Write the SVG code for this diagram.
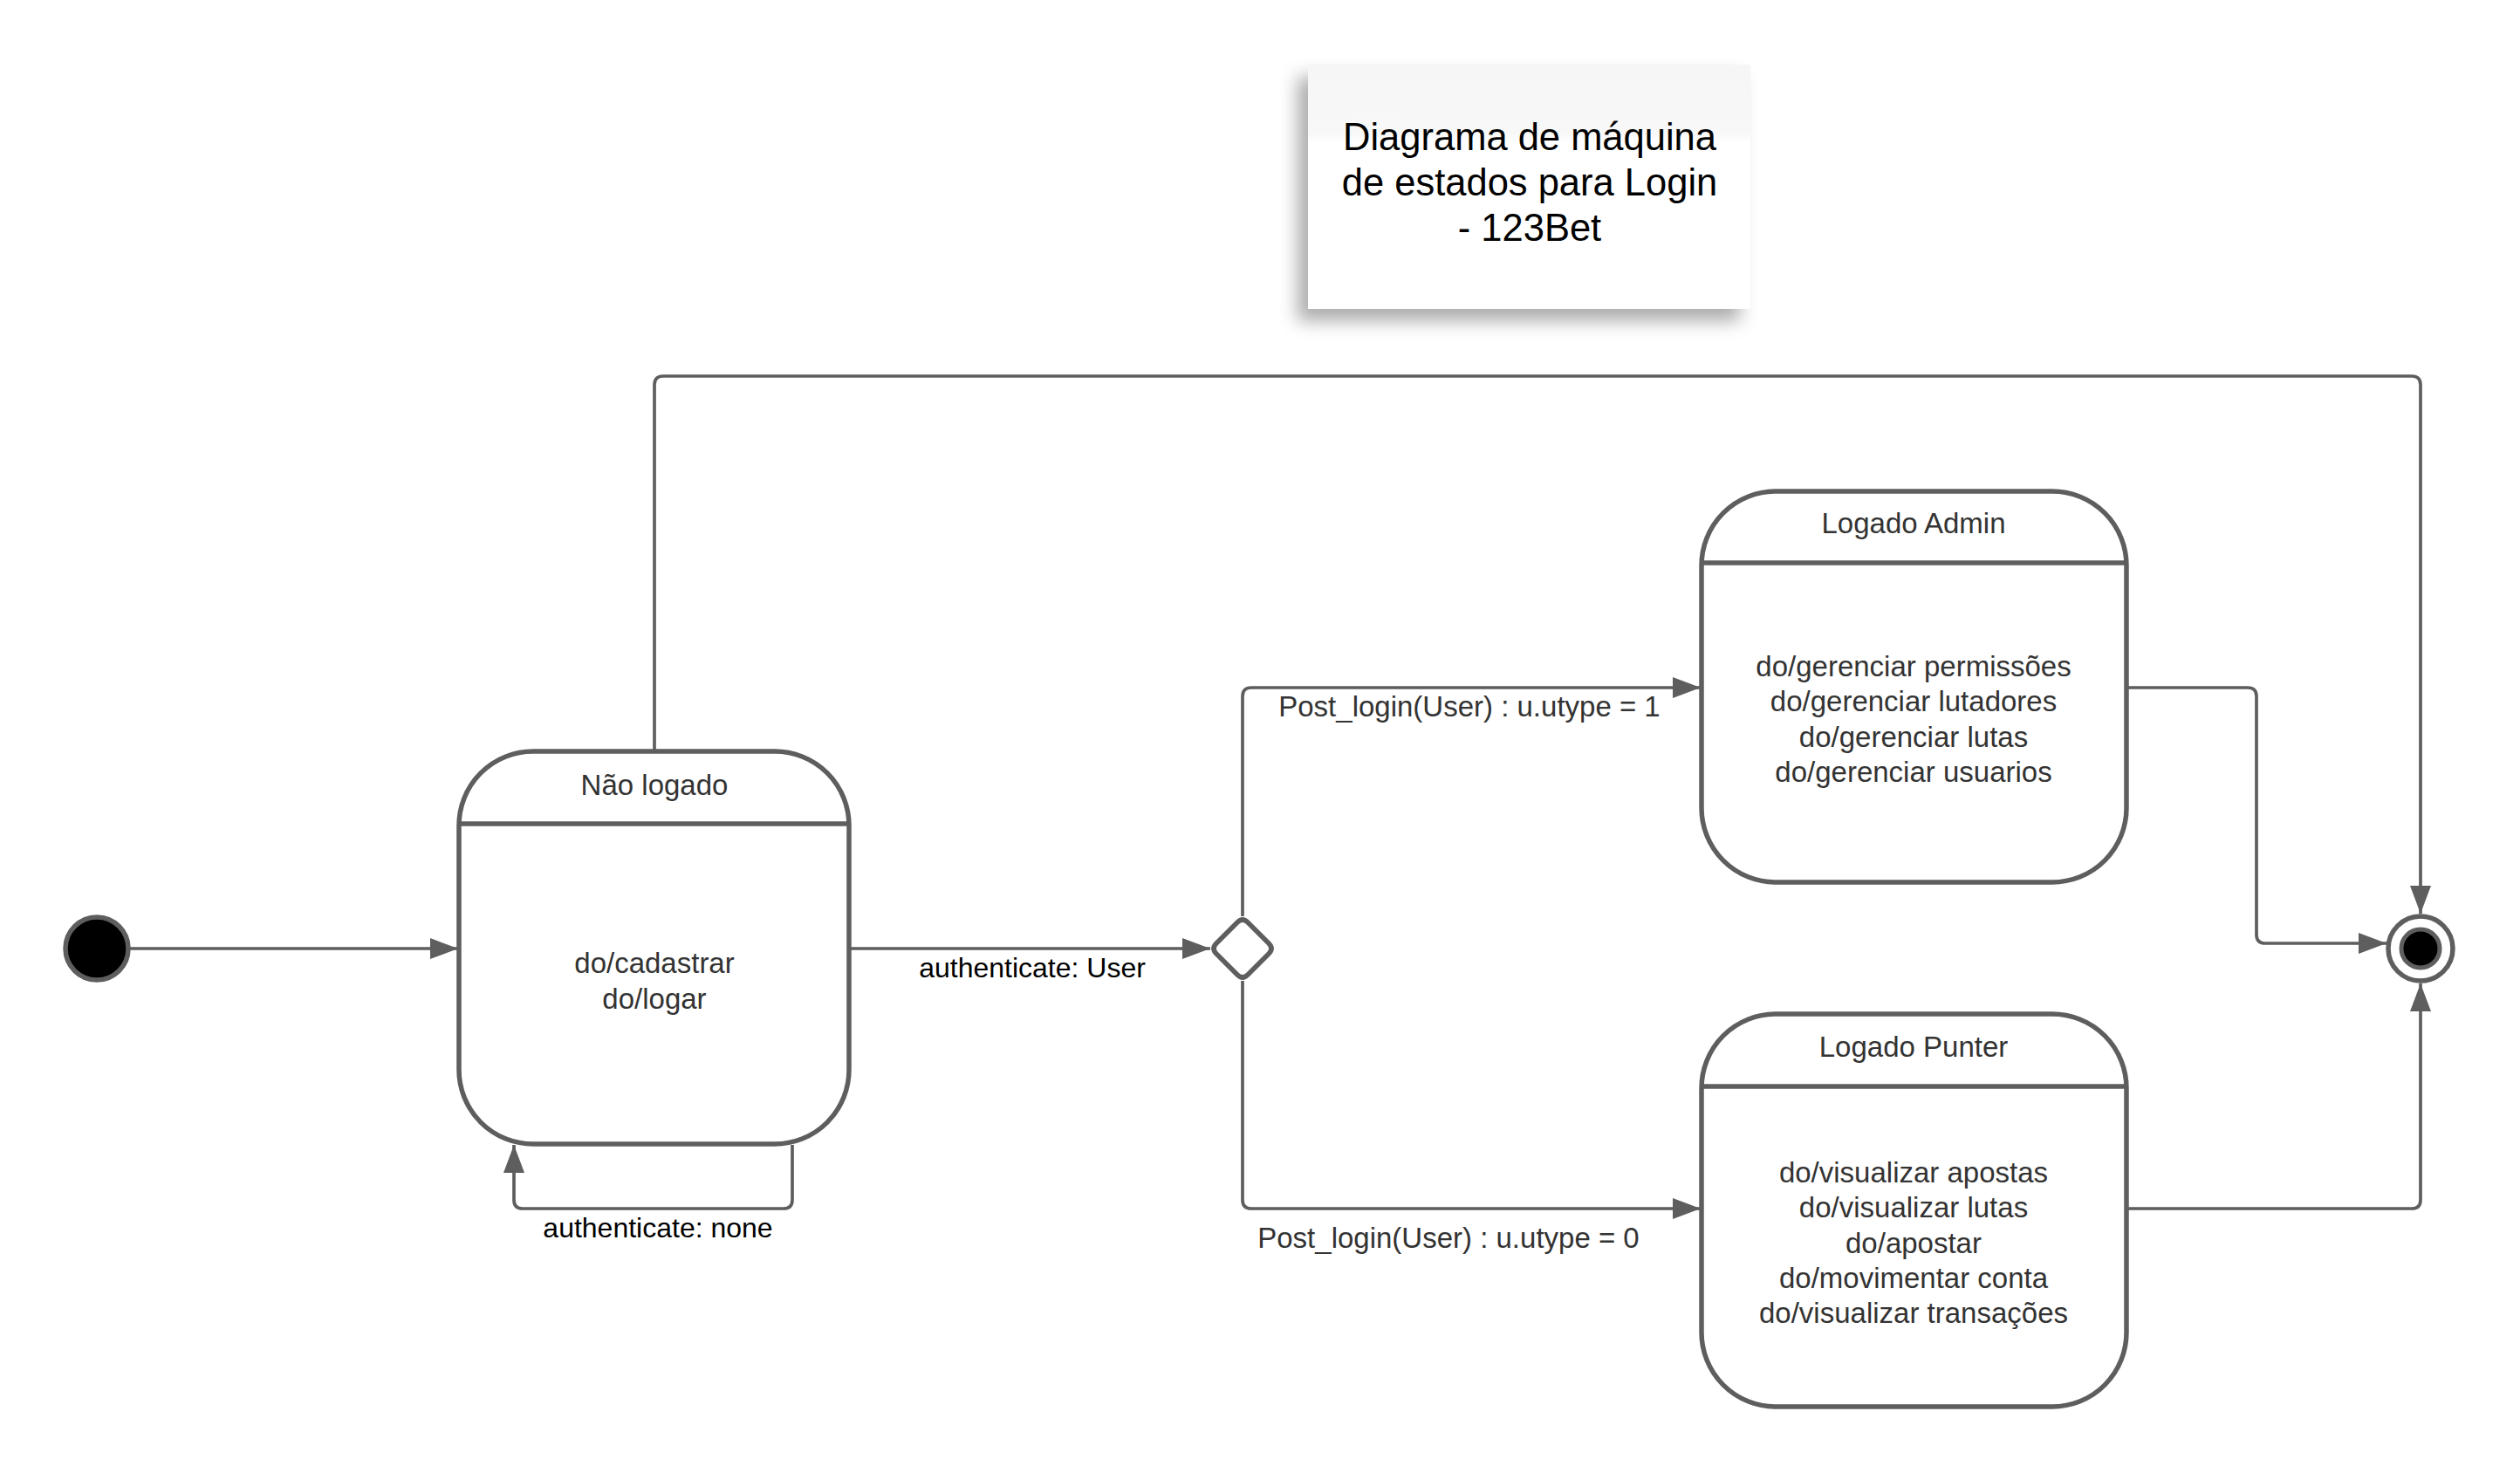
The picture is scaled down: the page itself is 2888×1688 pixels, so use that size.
<svg xmlns="http://www.w3.org/2000/svg" width="2888" height="1688" viewBox="0 0 2888 1688">
<style>
.shape{fill:#ffffff;stroke:#5e5e5e;stroke-width:5.5}
.div{stroke:#5e5e5e;stroke-width:5.5}
.conn{fill:none;stroke:#5e5e5e;stroke-width:3.7;stroke-linejoin:round}
.t{font-family:"Liberation Sans",Arial,sans-serif;font-size:33px;fill:#333333;text-anchor:middle}
.lbl{font-family:"Liberation Sans",Arial,sans-serif;font-size:32px;fill:#000000;text-anchor:middle}
.title{font-family:"Liberation Sans",Arial,sans-serif;font-size:43.5px;fill:#000000;text-anchor:middle}
</style>
<defs>
<marker id="arr" markerUnits="userSpaceOnUse" markerWidth="34" markerHeight="26" refX="32" refY="12" orient="auto">
<path d="M0,0 L32,12 L0,24 Z" fill="#5e5e5e"/>
</marker>
<linearGradient id="note" x1="0" y1="0" x2="0" y2="1">
<stop offset="0" stop-color="#f6f6f6"/>
<stop offset="0.28" stop-color="#f8f8f8"/>
<stop offset="0.32" stop-color="#ffffff"/>
<stop offset="1" stop-color="#ffffff"/>
</linearGradient>
<filter id="shadow" x="-20%" y="-20%" width="140%" height="150%">
<feDropShadow dx="-12" dy="14" stdDeviation="10" flood-color="#000000" flood-opacity="0.32"/>
</filter>
</defs>
<rect width="2888" height="1688" fill="#ffffff"/>

<g id="title-note">
<rect x="1499" y="74" width="507" height="280" fill="url(#note)" filter="url(#shadow)"/>
<text class="title" x="1753" y="172">Diagrama de máquina</text>
<text class="title" x="1753" y="224">de estados para Login</text>
<text class="title" x="1753" y="276">- 123Bet</text>
</g>

<g id="connectors">
<path class="conn" d="M148,1087 H525" marker-end="url(#arr)"/>
<path class="conn" d="M973,1087 H1387" marker-end="url(#arr)"/>
<path class="conn" d="M908,1312 V1375 Q908,1385 898,1385 H599 Q589,1385 589,1375 V1312" marker-end="url(#arr)"/>
<path class="conn" d="M750,860 V441 Q750,431 760,431 H2764 Q2774,431 2774,441 V1047" marker-end="url(#arr)"/>
<path class="conn" d="M1424,1050 V798 Q1424,788 1434,788 H1949" marker-end="url(#arr)"/>
<path class="conn" d="M1424,1124 V1375 Q1424,1385 1434,1385 H1949" marker-end="url(#arr)"/>
<path class="conn" d="M2437,788 H2576 Q2586,788 2586,798 V1071 Q2586,1081 2596,1081 H2735" marker-end="url(#arr)"/>
<path class="conn" d="M2437,1385 H2764 Q2774,1385 2774,1375 V1127" marker-end="url(#arr)"/>
<text class="lbl" x="1183" y="1120">authenticate: User</text>
<text class="lbl" x="754" y="1418">authenticate: none</text>
<text class="t" x="1684" y="821">Post_login(User) : u.utype = 1</text>
<text class="t" x="1660" y="1430">Post_login(User) : u.utype = 0</text>
</g>

<g id="start">
<circle cx="111" cy="1087" r="36" fill="#000000" stroke="#5e5e5e" stroke-width="5.5"/>
</g>

<g id="nao-logado">
<rect class="shape" x="526" y="861" width="447" height="450" rx="85" ry="85"/>
<line class="div" x1="526" y1="944" x2="973" y2="944"/>
<text class="t" x="750" y="911">Não logado</text>
<text class="t" x="750" y="1115">do/cadastrar</text>
<text class="t" x="750" y="1156">do/logar</text>
</g>

<g id="decision">
<path d="M1418,1057 Q1424,1051 1430,1057 L1454,1081 Q1460,1087 1454,1093 L1430,1117 Q1424,1123 1418,1117 L1394,1093 Q1388,1087 1394,1081 Z" fill="#ffffff" stroke="#5e5e5e" stroke-width="5.5" stroke-linejoin="round"/>
</g>

<g id="logado-admin">
<rect class="shape" x="1950" y="563" width="487" height="448" rx="85" ry="85"/>
<line class="div" x1="1950" y1="645" x2="2437" y2="645"/>
<text class="t" x="2193" y="611">Logado Admin</text>
<text class="t" x="2193" y="775">do/gerenciar permissões</text>
<text class="t" x="2193" y="815">do/gerenciar lutadores</text>
<text class="t" x="2193" y="856">do/gerenciar lutas</text>
<text class="t" x="2193" y="896">do/gerenciar usuarios</text>
</g>

<g id="logado-punter">
<rect class="shape" x="1950" y="1162" width="487" height="450" rx="85" ry="85"/>
<line class="div" x1="1950" y1="1245" x2="2437" y2="1245"/>
<text class="t" x="2193" y="1211">Logado Punter</text>
<text class="t" x="2193" y="1355">do/visualizar apostas</text>
<text class="t" x="2193" y="1395">do/visualizar lutas</text>
<text class="t" x="2193" y="1436">do/apostar</text>
<text class="t" x="2193" y="1476">do/movimentar conta</text>
<text class="t" x="2193" y="1516">do/visualizar transações</text>
</g>

<g id="final">
<circle cx="2774" cy="1087" r="37" fill="#ffffff" stroke="#5e5e5e" stroke-width="5.5"/>
<circle cx="2774" cy="1087" r="22" fill="#000000" stroke="#5e5e5e" stroke-width="5"/>
</g>
</svg>
